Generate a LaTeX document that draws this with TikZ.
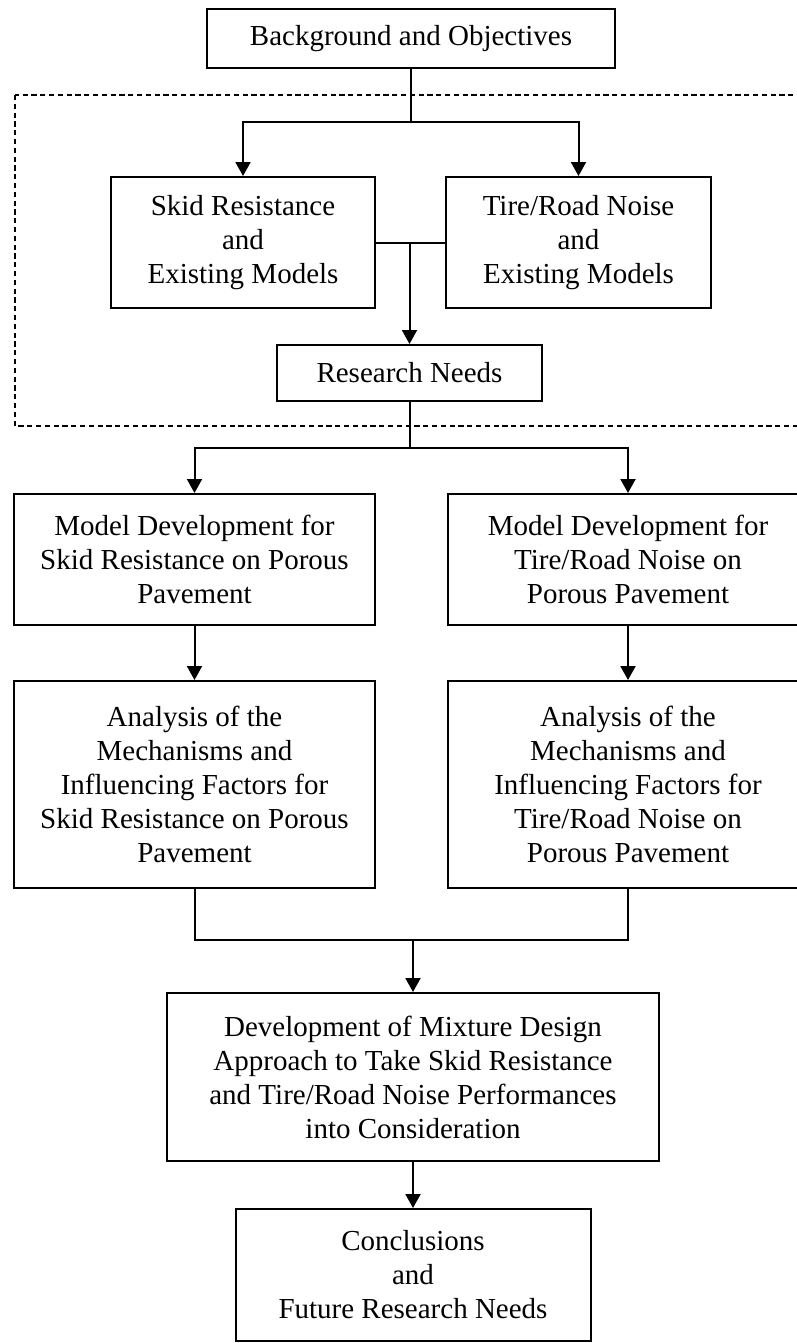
\documentclass[tikz,border=0pt]{standalone}
\usepackage{fontspec}
\setmainfont{Liberation Serif}
\usetikzlibrary{arrows.meta}
\tikzset{every picture/.style = {line width=1pt, x=0.5pt, y=-0.5pt}}
\tikzset{stage/.style = {draw, align=center, inner sep=0pt, font=\fontsize{14.5}{17}\selectfont}}
\tikzset{flow/.style = {-{Triangle[width=7.5pt, length=7pt]}}}
\tikzset{frame/.style = {line width=0.6pt, dash pattern=on 2.6pt off 1.8pt}}

\begin{document}
\begin{tikzpicture}
  \useasboundingbox (0, 0) rectangle (797, 1343);
  \draw[frame] (15, 95) rectangle (830, 426);
  \node[stage, minimum width=204pt, minimum height=29.5pt] (bo) at (411, 38.5) {Background and Objectives};
  \node[stage, minimum width=132pt, minimum height=65.5pt] (skid) at (243, 242.5) {Skid Resistance\\and\\Existing Models};
  \node[stage, minimum width=132.5pt, minimum height=65.5pt] (tire) at (578.5, 242.5) {Tire/Road Noise\\and\\Existing Models};
  \node[stage, minimum width=132.5pt, minimum height=28pt] (rn) at (409.5, 373) {Research Needs};
  \node[stage, minimum width=180.5pt, minimum height=65.5pt] (mdskid) at (194.5, 559.5) {Model Development for\\Skid Resistance on Porous\\Pavement};
  \node[stage, minimum width=180.5pt, minimum height=65.5pt] (mdtire) at (628, 559.5) {Model Development for\\Tire/Road Noise on\\Porous Pavement};
  \node[stage, minimum width=180.5pt, minimum height=103.5pt] (ansk) at (194.5, 784.5) {Analysis of the\\Mechanisms and\\Influencing Factors for\\Skid Resistance on Porous\\Pavement};
  \node[stage, minimum width=180.5pt, minimum height=103.5pt] (antire) at (628, 784.5) {Analysis of the\\Mechanisms and\\Influencing Factors for\\Tire/Road Noise on\\Porous Pavement};
  \node[stage, minimum width=246pt, minimum height=84pt] (mix) at (413, 1077) {Development of Mixture Design\\Approach to Take Skid Resistance\\and Tire/Road Noise Performances\\into Consideration};
  \node[stage, minimum width=177.5pt, minimum height=66pt] (concl) at (413, 1275) {Conclusions\\and\\Future Research Needs};
  % forks and joins
  \coordinate (topfork) at (411, 122);
  \coordinate (midjoin) at (409.5, 242.5);
  \coordinate (lowfork) at (409.5, 448);
  \coordinate (merge) at (413, 940);
  \draw (bo) -- (topfork);
  \draw[flow] (topfork) -| (skid);
  \draw[flow] (topfork) -| (tire);
  \draw (skid.east) -- (tire.west);
  \draw[flow] (midjoin) -- (rn);
  \draw (rn) -- (lowfork);
  \draw[flow] (lowfork) -| (mdskid);
  \draw[flow] (lowfork) -| (mdtire);
  \draw[flow] (mdskid) -- (ansk);
  \draw[flow] (mdtire) -- (antire);
  \draw (ansk) |- (merge) -| (antire);
  \draw[flow] (merge) -- (mix);
  \draw[flow] (mix) -- (concl);
\end{tikzpicture}
\end{document}
